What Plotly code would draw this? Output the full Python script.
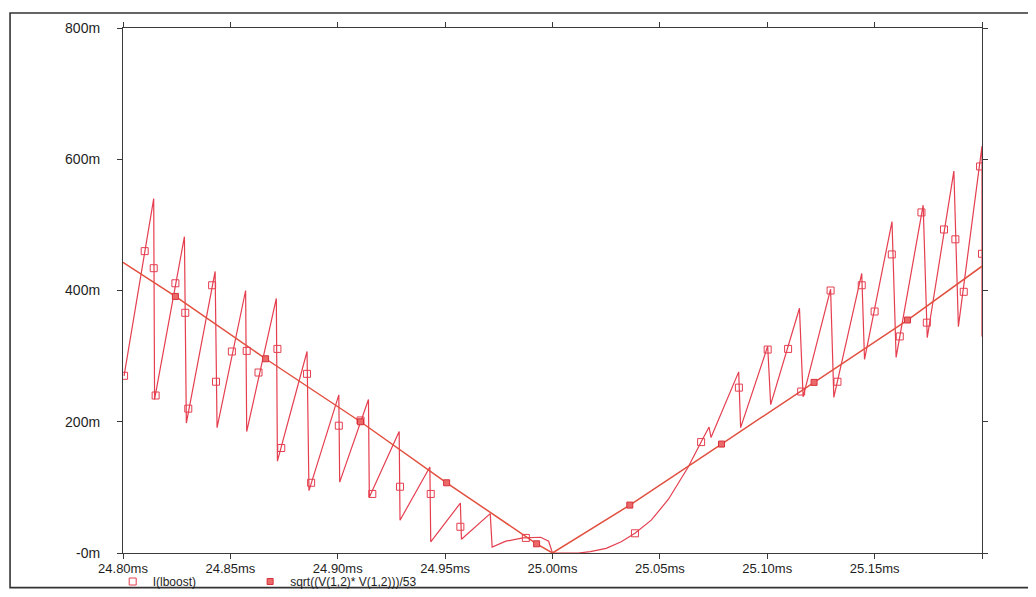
import plotly.graph_objects as go

# ---- data (time in ms, values in mA) ----
i_t = [24.8005, 24.8143, 24.8147, 24.8286, 24.8295, 24.8429, 24.8438, 24.8571, 24.8576,
       24.8714, 24.8719, 24.8857, 24.8866, 24.9005, 24.9009, 24.9143, 24.9147, 24.9286,
       24.9290, 24.9429, 24.9433, 24.9571, 24.9576, 24.9710, 24.9719, 24.9783, 24.9862,
       24.9945, 24.9982, 25.0000, 25.0120, 25.0176, 25.0250, 25.0320, 25.0384, 25.0460,
       25.0540, 25.0632, 25.0692, 25.0729, 25.0738, 25.0867, 25.0876, 25.1002, 25.1016,
       25.1150, 25.1167, 25.1295, 25.1310, 25.1440, 25.1453, 25.1581, 25.1600, 25.1726,
       25.1745, 25.1869, 25.1890, 25.2000, 25.2000]
i_v = [270, 540, 234, 482, 198, 429, 191, 400, 185,
       388, 140, 307, 95, 241, 108, 234, 85, 185,
       50, 131, 17, 76, 21, 60, 9, 18, 23,
       24, 18, 0, 0, 2, 7, 17, 30, 50,
       82, 131, 169, 192, 176, 276, 191, 315, 226,
       373, 238, 402, 237, 426, 295, 505, 298, 530,
       328, 582, 345, 620, 330]

i_mark_t = [24.8005, 24.8101, 24.8143, 24.8152, 24.8244, 24.8290, 24.8304, 24.8415, 24.8433,
            24.8507, 24.8576, 24.8631, 24.8719, 24.8857, 24.8737, 24.8876, 24.9005, 24.9106,
            24.9161, 24.9290, 24.9433, 24.9571, 24.9876, 25.0384, 25.0692, 25.0868, 25.1002,
            25.1097, 25.1158, 25.1295, 25.1327, 25.1440, 25.1500, 25.1580, 25.1617, 25.1718,
            25.1743, 25.1823, 25.1876, 25.1915, 25.1991, 25.2000]
i_mark_v = [270, 460, 434, 240, 411, 366, 220, 408, 261,
            307, 308, 275, 311, 273, 160, 107, 194, 202,
            90, 101, 90, 40, 23, 30, 169, 252, 310,
            311, 246, 400, 261, 408, 368, 455, 330, 519,
            351, 493, 478, 398, 589, 456]

v_t = [24.80, 24.8244, 24.8664, 24.9106, 24.9507, 24.9926, 25.00, 25.036, 25.0787, 25.1218, 25.1653, 25.20]
v_v = [443, 391, 296, 200, 107, 14, 0, 73, 166, 260, 355, 437]

v_mark_t = [24.8244, 24.8664, 24.9106, 24.9507, 24.9926, 25.036, 25.0787, 25.1218, 25.1653]
v_mark_v = [391, 296, 200, 107, 14, 73, 166, 260, 355]

x_ticks = [24.80, 24.85, 24.90, 24.95, 25.00, 25.05, 25.10, 25.15, 25.20]
x_labels = ["24.80ms", "24.85ms", "24.90ms", "24.95ms", "25.00ms", "25.05ms", "25.10ms", "25.15ms", ""]
y_ticks = [0, 200, 400, 600, 800]
y_labels = ["-0m", "200m", "400m", "600m", "800m"]

FONT = "Liberation Sans, Arial, sans-serif"
RED = "#e53e4f"
ORANGE = "#e2503f"
AXC = "#3a3a3a"
TXT = "#1e1e1e"

fig = go.Figure()
fig.add_trace(go.Scatter(x=i_t, y=i_v, mode="lines", line=dict(color=RED, width=1.2),
                         showlegend=False, hoverinfo="skip"))
fig.add_trace(go.Scatter(x=v_t, y=v_v, mode="lines", line=dict(color=ORANGE, width=1.5),
                         showlegend=False, hoverinfo="skip"))
fig.add_trace(go.Scatter(x=i_mark_t, y=i_mark_v, mode="markers", name="I(lboost)",
                         legend="legend",
                         marker=dict(symbol="square-open", size=7, color=RED, line=dict(width=1))))
fig.add_trace(go.Scatter(x=v_mark_t, y=v_mark_v, mode="markers", name="sqrt((V(1,2)* V(1,2)))/53",
                         legend="legend2",
                         marker=dict(symbol="square", size=6, color="#ea6a6a",
                                     line=dict(color="#d8303a", width=1))))

common_x = dict(range=[24.80, 25.20], tickmode="array", tickvals=x_ticks, showgrid=False,
                zeroline=False, ticklen=5, tickcolor=AXC, tickwidth=1)
common_y = dict(range=[0, 800], tickmode="array", tickvals=y_ticks, showgrid=False,
                zeroline=False, ticklen=5, tickcolor=AXC, tickwidth=1)

legend_common = dict(orientation="h", xanchor="left", yanchor="middle", y=-0.0543,
                     itemwidth=30, bgcolor="rgba(0,0,0,0)", borderwidth=0,
                     font=dict(family=FONT, size=12, color=TXT))

fig.update_layout(
    width=1020, height=581,
    margin=dict(l=115, r=46, t=20, b=36, autoexpand=False),
    paper_bgcolor="white", plot_bgcolor="white",
    font=dict(family=FONT, size=14, color=TXT),
    xaxis=dict(**common_x, ticktext=x_labels, ticks="outside", mirror="ticks",
               showline=True, linecolor=AXC, linewidth=1.2, ticklabelstandoff=-2,
               tickfont=dict(family=FONT, size=13, color=TXT)),
    yaxis=dict(**common_y, ticktext=y_labels, ticks="outside", mirror="ticks",
               showline=True, linecolor=AXC, linewidth=1.2, ticklabelstandoff=14,
               tickfont=dict(family=FONT, size=14, color=TXT)),
    xaxis2=dict(**common_x, overlaying="x", anchor="y", side="bottom", ticks="inside",
                mirror="ticks", showline=False, showticklabels=False),
    yaxis2=dict(**common_y, overlaying="y", anchor="x", side="left", ticks="inside",
                mirror="ticks", showline=False, showticklabels=False),
    legend=dict(**legend_common, x=-0.012),
    legend2=dict(**legend_common, x=0.148),
    shapes=[dict(type="rect", xref="paper", yref="paper", x0=-0.1315, x1=1.06,
                 y0=-0.066, y1=1.0286, line=dict(color="#333333", width=1.6), layer="below")],
)

fig.write_html("out.html")
